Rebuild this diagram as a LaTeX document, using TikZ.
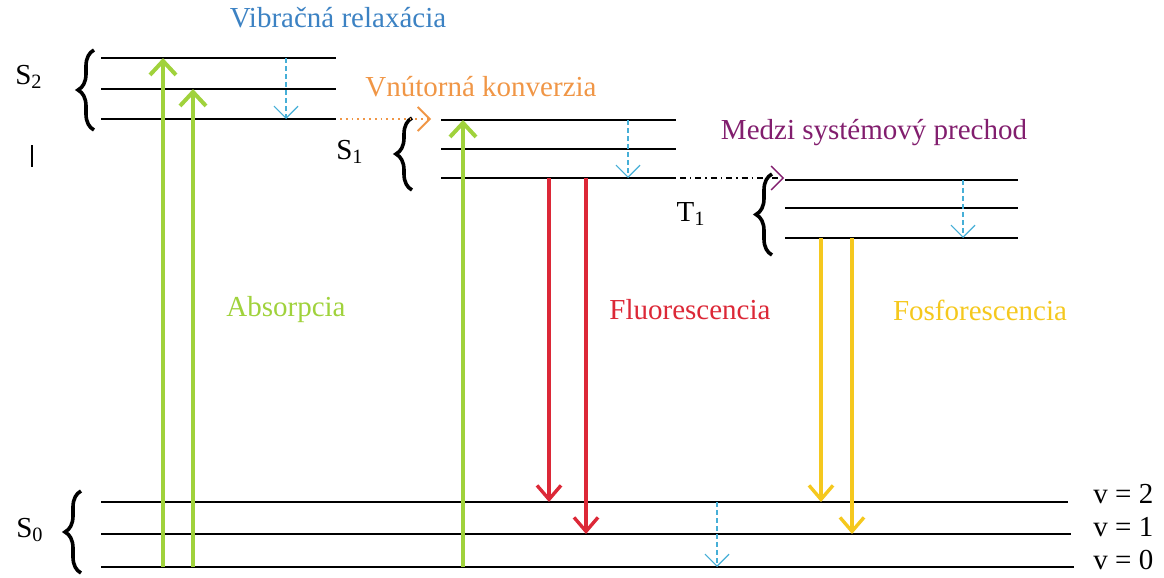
\documentclass[tikz,border=0pt]{standalone}
\usepackage{fontspec}
\setmainfont{Liberation Serif}
\usetikzlibrary{arrows.meta, decorations.pathreplacing, positioning}
\definecolor{absgreen}{RGB}{160,210,60}
\definecolor{fluored}{RGB}{220,40,55}
\definecolor{phosyellow}{RGB}{245,200,30}
\definecolor{relaxblue}{RGB}{70,175,215}
\definecolor{titleblue}{RGB}{60,130,195}
\definecolor{icorange}{RGB}{240,150,70}
\definecolor{iscpurple}{RGB}{130,30,110}

\tikzset{
  level/.style={line width=1pt},
  absorb/.style={absgreen, line width=2pt, -{Straight Barb[length=7pt,width=13pt]}},
  emitfl/.style={fluored, line width=1.7pt, -{Straight Barb[length=7pt,width=12pt]}},
  emitph/.style={phosyellow, line width=1.7pt, -{Straight Barb[length=7pt,width=12pt]}},
  relax/.style={relaxblue, line width=0.6pt, dash pattern=on 2.5pt off 1.5pt, -{Straight Barb[length=6pt,width=12pt]}},
  statebrace/.style={decorate, decoration={brace, amplitude=8pt}, line width=1.8pt},
  lbl/.style={font=\fontsize{14.5}{17}\selectfont, inner sep=0pt}
}

\begin{document}
\begin{tikzpicture}[x=0.5pt, y=-0.5pt]
\useasboundingbox (0,0) rectangle (1164,578);

% vibrational levels
\foreach \y/\n in {58/a, 89/b, 119/c}
	\draw[level] (101,\y) coordinate (sii-\n) -- (336,\y) coordinate (sii-\n-e);
\foreach \y/\n in {120/a, 149/b, 178/c}
	\draw[level] (441,\y) coordinate (si-\n) -- (676,\y) coordinate (si-\n-e);
\foreach \y/\n in {180/a, 208/b, 238/c}
	\draw[level] (785,\y) coordinate (ti-\n) -- (1018,\y) coordinate (ti-\n-e);
\foreach \y/\n/\e in {502/a/1068, 534/b/1071, 567/c/1074}
	\draw[level] (101,\y) coordinate (so-\n) -- (\e,\y) coordinate (so-\n-e);

% braces and state names
\draw[statebrace] (94,130) -- (94,50);
\draw[statebrace] (412,190) -- (412,118);
\draw[statebrace] (772,255) -- (772,174);
\draw[statebrace] (81,573) -- (81,491);

\node[lbl] (sii) at (29,77) {S\textsubscript{2}};
\node[lbl] (si) at (350,152) {S\textsubscript{1}};
\node[lbl] (ti) at (691,214) {T\textsubscript{1}};
\node[lbl] (so) at (30,530) {S\textsubscript{0}};
\draw[line width=1.3pt] (32,145) -- (32,167);

\node[lbl, anchor=west] (v2) at (1093,494) {v = 2};
\node[lbl, anchor=west] (v1) at (1093,527) {v = 1};
\node[lbl, anchor=west] (v0) at (1093,560) {v = 0};

% absorption
\coordinate (ab1) at (163,567);
\coordinate (ab2) at (193,567);
\coordinate (ab3) at (463,567);
\draw[absorb] (ab1) -- (ab1 |- sii-a);
\draw[absorb] (ab2) -- (ab2 |- sii-b);
\draw[absorb] (ab3) -- (ab3 |- si-a);

% fluorescence
\coordinate (fl1) at (549,178);
\coordinate (fl2) at (586,178);
\draw[emitfl] (fl1) -- (fl1 |- so-a);
\draw[emitfl] (fl2) -- (fl2 |- so-b);

% phosphorescence
\coordinate (ph1) at (821,238);
\coordinate (ph2) at (852,238);
\draw[emitph] (ph1) -- (ph1 |- so-a);
\draw[emitph] (ph2) -- (ph2 |- so-b);

% vibrational relaxation
\coordinate (vr1) at (286,58);
\coordinate (vr2) at (628,120);
\coordinate (vr3) at (963,180);
\coordinate (vr4) at (717,502);
\draw[relax] (vr1) -- (vr1 |- sii-c);
\draw[relax] (vr2) -- (vr2 |- si-c);
\draw[relax] (vr3) -- (vr3 |- ti-c);
\draw[relax] (vr4) -- (vr4 |- so-c);

% internal conversion, intersystem crossing
\coordinate (ic) at (431,119);
\coordinate (isc) at (784,178);
\draw[icorange, line width=0.9pt, dotted, -{Straight Barb[length=6pt,width=12pt]}] (sii-c-e) ++(4,0) -- (ic);
\draw[line width=0.7pt, dash dot, -{Straight Barb[length=6pt,width=12pt,color=iscpurple]}] (si-c-e) ++(4,0) -- (isc);

% labels
\node[lbl, text=titleblue] (vib) at (338,18) {Vibračná relaxácia};
\node[lbl, text=icorange] (ict) at (481,87) {Vnútorná konverzia};
\node[lbl, text=iscpurple] (isct) at (874,133) {Medzi systémový prechod};
\node[lbl, text=absgreen] (abst) at (286,310) {Absorpcia};
\node[lbl, text=fluored] (flt) at (690,310) {Fluorescencia};
\node[lbl, text=phosyellow] (pht) at (980,310) {Fosforescencia};

\end{tikzpicture}
\end{document}
